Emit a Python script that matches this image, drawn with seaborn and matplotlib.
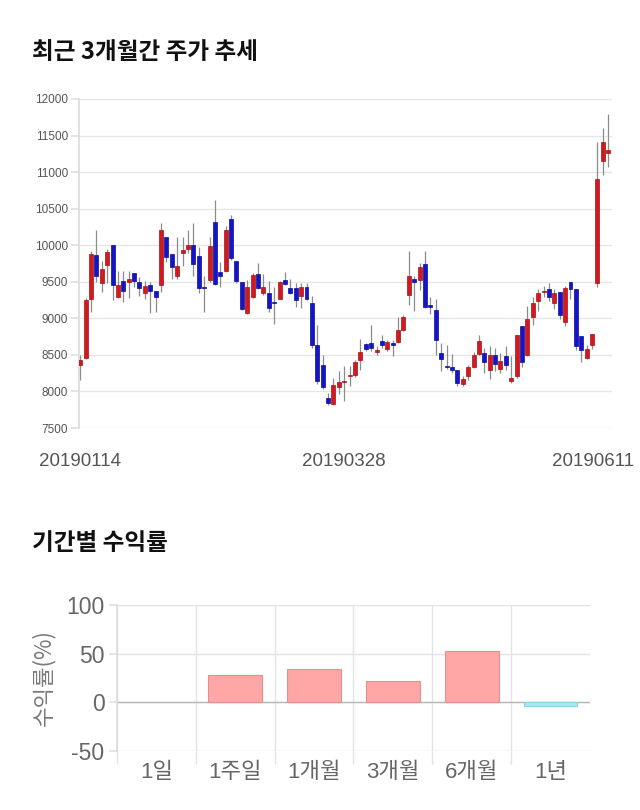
import matplotlib
matplotlib.use("Agg")
import matplotlib.pyplot as plt
import matplotlib.transforms as mtransforms
from matplotlib import font_manager
import seaborn as sns
import pandas as pd
import numpy as np

# ---------------- data ----------------
opens = [8367, 8459, 9262, 9867, 9477, 9729, 10009, 9294, 9505, 9495,
         9615, 9500, 9349, 9454, 9376, 9459, 10119, 9876, 9573, 9899,
         9950, 10009, 9853, 9422, 9523, 10317, 9628, 9651, 10362, 9789,
         9491, 9078, 9294, 9606, 9340, 9349, 9222, 9271, 9528, 9408,
         9413, 9307, 9422, 9216, 8642, 8358, 7908, 7826, 8059, 8123,
         8206, 8220, 8435, 8650, 8664, 8535, 8686, 8581, 8645, 8673,
         8847, 9318, 9533, 9524, 9748, 9176, 9112, 8526, 8352, 8334,
         8288, 8105, 8206, 8334, 8513, 8526, 8288, 8494, 8307, 8480,
         8147, 8206, 8901, 8503, 9020, 9235, 9360, 9405, 9203, 9363,
         8952, 9496, 9405, 8755, 8458, 8636, 9487, 11157, 11262]
highs = [8505, 9275, 9917, 10211, 9789, 9950, 10009, 9642, 9642, 9642,
         9615, 9560, 9505, 9491, 9376, 10303, 10119, 9876, 10110, 10110,
         10211, 10303, 9972, 9583, 10119, 10615, 9766, 10257, 10408, 9789,
         9491, 9523, 9615, 9752, 9606, 9505, 9422, 9505, 9628, 9537,
         9482, 9477, 9477, 9307, 8908, 8505, 7977, 8183, 8284, 8352,
         8352, 8435, 8718, 8660, 8915, 8620, 8778, 8709, 8709, 9021,
         9039, 9922, 9579, 9753, 9922, 9295, 9259, 8664, 8641, 8517,
         8288, 8210, 8366, 8535, 8778, 8595, 8627, 8595, 8526, 8627,
         8490, 8769, 8901, 9167, 9290, 9396, 9440, 9478, 9396, 9363,
         9441, 9496, 9405, 8755, 8641, 8792, 11408, 11605, 11797]
lows = [8161, 8440, 9092, 9491, 9362, 9477, 9248, 9280, 9229, 9284,
        9422, 9307, 9262, 9078, 9087, 9362, 9766, 9537, 9537, 9720,
        9890, 9583, 9353, 9092, 9500, 9450, 9431, 9640, 9800, 9477,
        9110, 9060, 9280, 9400, 9320, 9092, 8927, 9260, 9460, 9330,
        9156, 9147, 9250, 8600, 8100, 8040, 7817, 7810, 7960, 7863,
        8068, 8200, 8297, 8560, 8560, 8500, 8600, 8560, 8480, 8660,
        8830, 9176, 9098, 9387, 9140, 9066, 8503, 8274, 8310, 8252,
        8078, 8080, 8151, 8320, 8500, 8252, 8169, 8275, 8252, 8298,
        8115, 8190, 8334, 8490, 8915, 9098, 9285, 9235, 9121, 8984,
        8901, 9258, 8563, 8398, 8440, 8581, 9432, 10960, 11065]
closes = [8436, 9248, 9881, 9583, 9670, 9913, 9459, 9454, 9367, 9537,
          9505, 9417, 9445, 9376, 9298, 10211, 9844, 9706, 9720, 9936,
          10009, 9739, 9417, 9408, 9995, 9468, 9583, 10211, 9826, 9514,
          9124, 9422, 9592, 9413, 9431, 9147, 9210, 9491, 9468, 9344,
          9257, 9422, 9271, 8642, 8147, 8060, 7840, 8091, 8128, 8142,
          8229, 8403, 8540, 8581, 8595, 8572, 8631, 8673, 8640, 8847,
          9021, 9579, 9501, 9707, 9158, 9153, 8709, 8444, 8329, 8297,
          8114, 8165, 8330, 8503, 8686, 8403, 8494, 8375, 8421, 8366,
          8183, 8769, 8403, 8984, 9203, 9350, 9375, 9295, 9350, 9043,
          9418, 9405, 8618, 8572, 8581, 8792, 10905, 11408, 11303]
date_ticks = [0, 49, 98]
date_labels = ["20190114", "20190328", "20190611"]
price_ticks = [7500, 8000, 8500, 9000, 9500, 10000, 10500, 11000, 11500, 12000]

periods = ["1일", "1주일", "1개월", "3개월", "6개월", "1년"]
returns = [0.0, 28.1, 33.9, 22.3, 52.7, -4.1]
return_ticks = [-50, 0, 50, 100]

# ---------------- style ----------------
sns.set_theme(style="white")
avail = {f.name for f in font_manager.fontManager.ttflist}
narrow = "Liberation Sans Narrow" if "Liberation Sans Narrow" in avail else "Liberation Sans"
plt.rcParams['font.family'] = ['Noto Sans CJK KR', 'DejaVu Sans']

fig = plt.figure(figsize=(6.4, 8.1), dpi=100)

# ---------------- candlestick chart ----------------
ax1 = fig.add_axes([0.123, 0.4716, 0.8328, 0.4062])
df = pd.DataFrame({"o": opens, "h": highs, "l": lows, "c": closes})
df["i"] = np.arange(len(df))
up = df["c"] >= df["o"]
face = np.where(up, "#d01a20", "#1414c8")
edge = np.where(up, "#a81015", "#0c0c9a")
ax1.vlines(df["i"], df["l"], df["h"], color="#8c8c8c", lw=0.9, zorder=2)
ax1.bar(df["i"], (df["c"] - df["o"]).abs().clip(lower=18),
        bottom=np.minimum(df["o"], df["c"]), width=0.74,
        color=face, edgecolor=edge, linewidth=0.5, zorder=3)

ax1.set_xlim(-0.28, 98.65)
ax1.set_ylim(7500, 12000)
ax1.set_yticks(price_ticks)
ax1.set_yticklabels([str(v) for v in price_ticks], family="Liberation Sans",
                    fontsize=8.5, color="#555555")
ax1.grid(axis="y", color="#e6e6e6", lw=1)
ax1.grid(axis="x", visible=False)
ax1.set_axisbelow(True)
for s in ["top", "right", "bottom"]:
    ax1.spines[s].set_visible(False)
ax1.spines["left"].set_color("#dcdcdc")
ax1.tick_params(axis="y", length=6, color="#e0e0e0", pad=1.5, left=True)
ax1.set_xticks(date_ticks)
ax1.set_xticklabels(date_labels, family=[narrow, "DejaVu Sans"], fontsize=13.5,
                    color="#555555")
ax1.tick_params(axis="x", length=0, pad=18)
lbls = ax1.get_xticklabels()
lbls[-1].set_transform(lbls[-1].get_transform() +
                       mtransforms.ScaledTranslation(-0.15, 0, fig.dpi_scale_trans))

fig.text(0.05, 1 - 52 / 810, "최근 3개월간 주가 추세", fontsize=17, fontweight="bold",
         color="#111111", ha="left", va="center")

# ---------------- returns bar chart ----------------
ax2 = fig.add_axes([0.1828, 0.0728, 0.739, 0.1802])
bdf = pd.DataFrame({"period": periods, "ret": returns})
bar_colors = ["#ffa6a6" if r >= 0 else "#abe6f2" for r in returns]
bar_edges = ["#e49090" if r >= 0 else "#8fd3e3" for r in returns]
sns.barplot(data=bdf, x="period", y="ret", hue="period", palette=bar_colors,
            legend=False, width=0.68, saturation=1, ax=ax2, zorder=3)
for p, ec, r in zip(ax2.patches, bar_edges, returns):
    p.set_edgecolor(ec)
    p.set_linewidth(0.8 if r != 0 else 0)

ax2.set_xlim(-0.5, 5.5)
ax2.set_ylim(-50, 100)
ax2.set_yticks(return_ticks)
ax2.set_yticklabels([str(v) for v in return_ticks], family=[narrow, "DejaVu Sans"],
                    fontsize=16.5, color="#666666")
ax2.grid(axis="y", color="#e3e3e3", lw=1)
ax2.axhline(0, color="#b8b8b8", lw=1, zorder=2)
ax2.set_xticks(np.arange(-0.5, 5.0, 1), minor=True)
ax2.grid(axis="x", which="minor", color="#e3e3e3", lw=1)
ax2.grid(axis="x", which="major", visible=False)
ax2.set_axisbelow(True)
ax2.tick_params(axis="x", which="minor", length=9, color="#e3e3e3", bottom=True)
ax2.tick_params(axis="x", which="major", length=0, pad=8)
ax2.tick_params(axis="y", length=6, color="#e3e3e3", pad=3, left=True)
ax2.set_xticks(range(len(periods)))
ax2.set_xticklabels(periods, family=[narrow, "Noto Sans CJK KR"], fontsize=16,
                    color="#666666")
for s in ["top", "right", "bottom"]:
    ax2.spines[s].set_visible(False)
ax2.spines["left"].set_color("#dcdcdc")
ax2.set_xlabel("")
ax2.set_ylabel("수익률(%)", fontsize=16, color="#7a7a7a",
               family=["Noto Sans CJK KR", "DejaVu Sans"])
ax2.yaxis.set_label_coords(-0.13, 0.5)

fig.text(0.05, 1 - 543 / 810, "기간별 수익률", fontsize=17, fontweight="bold",
         color="#111111", ha="left", va="center")

fig.savefig("out.png", dpi=100)
